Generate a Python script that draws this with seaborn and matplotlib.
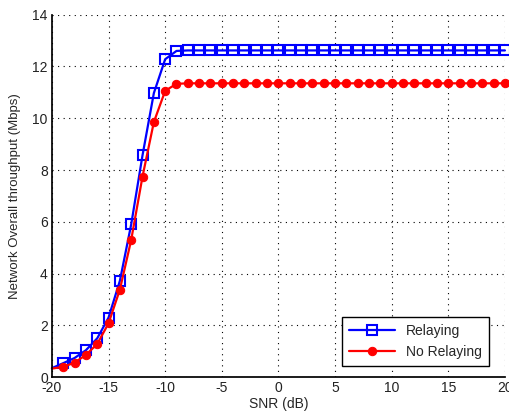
import numpy as np
import pandas as pd
import matplotlib
matplotlib.use("Agg")
import matplotlib.pyplot as plt
import seaborn as sns

# data
snr = list(range(-20, 21))
relaying = [0.35, 0.54, 0.74, 1.04, 1.50, 2.30, 3.72, 5.90, 8.57, 10.97, 12.28,
            12.60] + [12.62] * 29
no_relaying = [0.33, 0.40, 0.56, 0.86, 1.28, 2.08, 3.38, 5.30, 7.75, 9.85, 11.06,
               11.33] + [11.35] * 29

sns.set_theme(style="white")
plt.rcParams['font.family'] = ['Liberation Sans', 'DejaVu Sans']
plt.rcParams['axes.unicode_minus'] = False

df = pd.DataFrame({'snr': snr, 'Relaying': relaying, 'No Relaying': no_relaying})

fig, ax = plt.subplots(figsize=(5.09, 4.2), dpi=100)
fig.subplots_adjust(left=0.102, right=0.992, bottom=0.102, top=0.965)

sns.lineplot(data=df, x='snr', y='Relaying', ax=ax, color='#0000ff', lw=1.6,
             marker='s', markersize=7, markerfacecolor='none',
             markeredgecolor='#0000ff', markeredgewidth=1.5,
             markevery=slice(1, None), clip_on=False, label='Relaying')
sns.lineplot(data=df, x='snr', y='No Relaying', ax=ax, color='#ff0000', lw=1.6,
             marker='o', markersize=6, markeredgecolor='#ff0000',
             markevery=slice(1, None), clip_on=False, label='No Relaying')

ax.set_xlim(-20, 20)
ax.set_ylim(0, 14)
ax.set_xticks(range(-20, 21, 5))
ax.set_yticks(range(0, 15, 2))
ax.grid(True, color='black', linestyle=(0, (1, 4)), linewidth=0.8)
ax.spines['top'].set_visible(False)
ax.spines['right'].set_visible(False)
ax.spines['left'].set_color('black')
ax.spines['bottom'].set_color('black')
ax.tick_params(direction='in', length=4, color='black', labelsize=10,
               labelcolor='#222222', pad=3)
ax.set_xlabel('SNR (dB)', fontsize=10, labelpad=1)
ax.set_ylabel('Network Overall throughput (Mbps)', fontsize=9.5, labelpad=8)

leg = ax.legend(loc='lower right', bbox_to_anchor=(0.98, 0.012), fontsize=10,
                fancybox=False, edgecolor='black', framealpha=1,
                handlelength=3.3, borderpad=0.5, labelspacing=0.5)
leg.get_frame().set_linewidth(1)

fig.savefig('out.png', dpi=100)
